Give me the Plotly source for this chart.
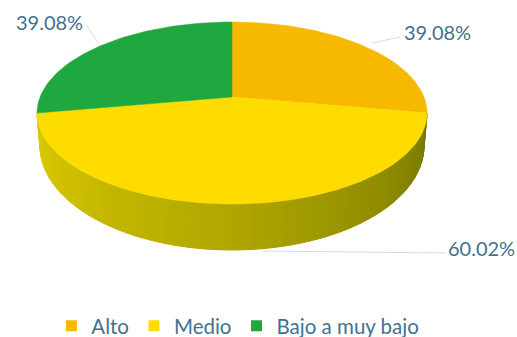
import math
import plotly.graph_objects as go

# Data
categories = ["Alto", "Medio", "Bajo a muy bajo"]
slice_shares = [25.0, 50.0, 25.0]          # share of the drawn disc
printed_labels = ["39.08%", "60.02%", "39.08%"]  # labels as printed in the chart
colors = ["#f6b900", "#ffdc00", "#1fa83f"]

# Disc geometry (axes are in page units)
W, H = 517, 337
CX, CY, RX, RY = 232, 113, 195, 91      # rim of the top face
APEX_Y = 97                             # perspective centre of the top face
BCY, BRX, BRY = 146, 192, 104           # rim of the bottom face
TEXT = "#41728f"


def top(t):
    return CX + RX * math.sin(t), CY - RY * math.cos(t)


def bottom(t):
    return CX + BRX * math.sin(t), BCY - BRY * math.cos(t)


def mix(a, b, f):
    return "rgb(%d,%d,%d)" % tuple(round(a[i] + (b[i] - a[i]) * f) for i in range(3))


total = sum(slice_shares)
edges = [0.0]
for v in slice_shares:
    edges.append(edges[-1] + v / total * 2 * math.pi)

fig = go.Figure()

# Side wall: shaded strips along the visible (front) part of the rim
LIGHT, MID, DARK = (222, 204, 0), (176, 166, 0), (118, 120, 0)
N = 60
start, end = edges[1], edges[2]
for i in range(N):
    t0 = end + (start - end) * i / N
    t1 = end + (start - end) * (i + 1) / N
    f = i / (N - 1)
    col = mix(LIGHT, MID, f / 0.5) if f < 0.5 else mix(MID, DARK, (f - 0.5) / 0.5)
    ts = [t0, t1]
    xs, ys = [], []
    for t in ts:
        p = top(t); xs.append(p[0]); ys.append(p[1])
    for t in reversed(ts):
        p = bottom(t); xs.append(p[0]); ys.append(p[1])
    xs.append(xs[0]); ys.append(ys[0])
    fig.add_trace(go.Scatter(x=xs, y=ys, mode="lines", fill="toself", fillcolor=col,
                             line=dict(color=col, width=1), showlegend=False, hoverinfo="skip"))

# Top face slices
for name, col, a, b in zip(categories, colors, edges[:-1], edges[1:]):
    n = max(2, int((b - a) / 0.02))
    rim = [top(a + (b - a) * k / n) for k in range(n + 1)]
    xs = [CX] + [p[0] for p in rim] + [CX]
    ys = [APEX_Y] + [p[1] for p in rim] + [APEX_Y]
    fig.add_trace(go.Scatter(x=xs, y=ys, mode="lines", fill="toself", fillcolor=col,
                             line=dict(color=col, width=0.5), showlegend=False, name=name,
                             hoverinfo="name"))

# Legend entries
for name, col in zip(categories, colors):
    fig.add_trace(go.Scatter(x=[None], y=[None], mode="markers", name=name,
                             marker=dict(symbol="square", size=11, color=col)))

# Data labels with leader lines: text position, then leader line ends
label_pos = [(437, 32), (481, 248), (49, 22)]
leaders = [((400, 37), (372, 43)), ((446, 253), (262, 251)), ((87, 26), (99, 44))]
for txt, (x, y), ((x0, y0), (x1, y1)) in zip(printed_labels, label_pos, leaders):
    fig.add_shape(type="line", x0=x0, y0=y0, x1=x1, y1=y1, xref="x", yref="y",
                  line=dict(color="#d5dde2", width=1))
    fig.add_annotation(x=x, y=y, xref="x", yref="y", text=txt, showarrow=False,
                       font=dict(family="Lato", size=20, color=TEXT))

fig.update_xaxes(range=[0, W], visible=False, fixedrange=True)
fig.update_yaxes(range=[H, 0], visible=False, fixedrange=True)
fig.update_layout(
    width=W, height=H, margin=dict(l=0, r=0, t=0, b=0, autoexpand=False),
    paper_bgcolor="white", plot_bgcolor="white",
    legend=dict(orientation="h", x=0.46, xanchor="center", y=0.033, yanchor="middle",
                font=dict(family="Lato", size=20.5, color=TEXT), bgcolor="rgba(0,0,0,0)",
                itemwidth=30, tracegroupgap=0),
)
fig.write_html("out.html", post_script="document.body.style.margin='0';",
               config=dict(displayModeBar=False))
